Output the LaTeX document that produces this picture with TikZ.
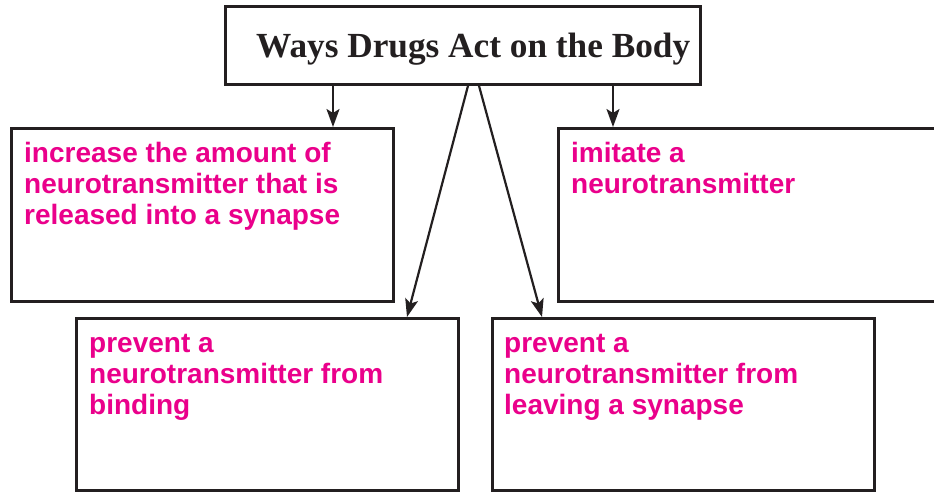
\documentclass[tikz,border=0pt]{standalone}
\usepackage{fontspec}
\setmainfont{Liberation Sans}
\newfontfamily\titlefont{Liberation Serif}
\usetikzlibrary{arrows.meta,calc}
\definecolor{pinktext}{RGB}{234,0,139}
\definecolor{linegray}{RGB}{35,31,32}
\begin{document}
\begin{tikzpicture}[x=1pt,y=-1pt,
  boxstyle/.style={draw=linegray,line width=2.8pt,rectangle,inner sep=0pt,anchor=north west,fill=white},
  labelstyle/.style={anchor=base west,inner sep=0pt,text=pinktext,font=\fontsize{28}{31}\selectfont\bfseries,align=left},
  arr/.style={draw=linegray,line width=2.2pt,-{Stealth[length=18pt,width=13pt,inset=4pt]}}]
\useasboundingbox (0,0) rectangle (934,491);
\fill[white] (0,0) rectangle (934,491);
% boxes
\node[boxstyle,minimum width=475pt,minimum height=78pt] (title) at (224,5) {};
\node[boxstyle,minimum width=382pt,minimum height=173pt] (b1) at (10,127) {};
\node[boxstyle,minimum width=390pt,minimum height=173pt] (b2) at (557,127) {};
\node[boxstyle,minimum width=382pt,minimum height=172pt] (b3) at (75,317) {};
\node[boxstyle,minimum width=382pt,minimum height=172pt] (b4) at (491,317) {};
% texts (base anchor = baseline of the last line)
\node[anchor=base west,inner sep=0pt,text=linegray] (tt) at (256,57) {\resizebox{434pt}{!}{\titlefont\bfseries Ways Drugs Act on the Body}};
\node[labelstyle] (t1) at (24,224) {increase the amount of\\neurotransmitter that is\\released into a synapse};
\node[labelstyle] (t2) at (571,193) {imitate a\\neurotransmitter};
\node[labelstyle] (t3) at (89,414) {prevent a\\neurotransmitter from\\binding};
\node[labelstyle] (t4) at (504,414) {prevent a\\neurotransmitter from\\leaving a synapse};
% arrows
\draw[arr] ([xshift=109pt]title.south west) -- ([xshift=323pt]b1.north west);
\draw[arr] ([xshift=389pt]title.south west) -- ([xshift=56pt]b2.north west);
\draw[arr] ([xshift=244pt]title.south west) -- ([xshift=332pt]b3.north west);
\draw[arr] ([xshift=255pt]title.south west) -- ([xshift=51pt]b4.north west);
\end{tikzpicture}
\end{document}
